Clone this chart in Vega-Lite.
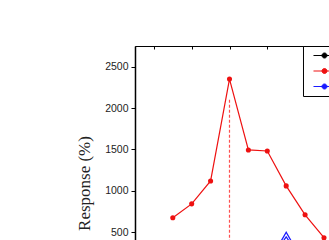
{
  "$schema": "https://vega.github.io/schema/vega-lite/v6.json",
  "autosize": {"type": "none"},
  "padding": {"left": 135, "top": 46, "right": 0, "bottom": 0},
  "width": 245.7,
  "height": 274,
  "background": "white",
  "config": {
    "view": {"stroke": "black", "strokeWidth": 1},
    "font": "Liberation Sans",
    "axis": {"grid": false}
  },
  "datasets": {
    "series": [
      {"s": "S1", "x": 2, "y": 40}, {"s": "S1", "x": 3, "y": 45}, {"s": "S1", "x": 4, "y": 50}, {"s": "S1", "x": 5, "y": 60}, {"s": "S1", "x": 6, "y": 55}, {"s": "S1", "x": 7, "y": 50}, {"s": "S1", "x": 8, "y": 45}, {"s": "S1", "x": 9, "y": 40}, {"s": "S1", "x": 10, "y": 35},
      {"s": "S2", "x": 2, "y": 675}, {"s": "S2", "x": 3, "y": 843}, {"s": "S2", "x": 4, "y": 1120}, {"s": "S2", "x": 5, "y": 2350}, {"s": "S2", "x": 6, "y": 1494}, {"s": "S2", "x": 7, "y": 1482}, {"s": "S2", "x": 8, "y": 1060}, {"s": "S2", "x": 9, "y": 711}, {"s": "S2", "x": 10, "y": 434},
      {"s": "S3", "x": 7, "y": 110}, {"s": "S3", "x": 8, "y": 445}, {"s": "S3", "x": 9, "y": 110}
    ],
    "marker": [{"x": 5, "y": 2100, "y2": -560}]
  },
  "layer": [
    {
      "data": {"name": "marker"},
      "mark": {"type": "rule", "stroke": "#ff5050", "opacity": 1, "strokeOpacity": 1, "strokeWidth": 1.2, "strokeDash": [3, 2]},
      "encoding": {
        "x": {"field": "x", "type": "quantitative", "scale": {"domain": [0, 13]}},
        "y": {"field": "y", "type": "quantitative", "scale": {"domain": [-560, 2750]}},
        "y2": {"field": "y2"}
      }
    },
    {
      "data": {"name": "series"},
      "mark": {"type": "line", "strokeWidth": 1.2},
      "encoding": {
        "x": {"field": "x", "type": "quantitative", "scale": {"domain": [0, 13], "nice": false},
          "axis": {"orient": "top", "values": [1,2,3,4,5,6,7,8,9,10,11,12], "labels": false, "title": null, "domain": false, "tickSize": -3, "tickColor": "black", "grid": false}},
        "y": {"field": "y", "type": "quantitative", "scale": {"domain": [-560, 2750], "nice": false, "zero": false},
          "axis": {"orient": "left", "values": [0,250,500,750,1000,1250,1500,1750,2000,2250,2500], "labelExpr": "datum.value % 500 === 0 ? datum.label : ''",
            "format": "d", "grid": false, "domainColor": "black", "domainWidth": 1.5, "tickColor": "black", "tickWidth": 1,
            "tickSize": {"condition": {"test": "datum.value % 500 === 0", "value": 4}, "value": 2.5},
            "labelFont": "Liberation Sans", "labelFontSize": 10.5, "labelColor": "#222", "labelPadding": 3,
            "title": "Response (%)", "titleFont": "Liberation Serif", "titleFontSize": 17, "titleFontWeight": "normal", "titleColor": "#222", "titlePadding": 11}},
        "color": {"field": "s", "type": "nominal",
          "scale": {"domain": ["S1", "S2", "S3"], "range": ["black", "#ee1111", "#1a1aff"]},
          "legend": {"orient": "none", "legendX": 168, "legendY": 0, "title": null, "padding": 4,
            "strokeColor": "black", "fillColor": "white", "symbolType": "M-2.2,0L2.2,0M0.5,0A0.5,0.5,0,1,1,-0.5,0A0.5,0.5,0,1,1,0.5,0Z",
            "symbolSize": 100, "symbolOffset": 12, "symbolStrokeWidth": 1, "labelFontSize": 11, "rowPadding": 3.5,
            "encode": {"symbols": {"update": {"fill": {"scale": "color", "field": "value"}, "stroke": {"scale": "color", "field": "value"}}}}}}
      }
    },
    {
      "data": {"name": "series"},
      "transform": [{"filter": "datum.s === 'S2'"}],
      "mark": {"type": "point", "shape": "circle", "filled": true, "size": 26, "opacity": 1, "color": "#ee1111"},
      "encoding": {
        "x": {"field": "x", "type": "quantitative"},
        "y": {"field": "y", "type": "quantitative"}
      }
    },
    {
      "data": {"name": "series"},
      "transform": [{"filter": "datum.s === 'S3'"}],
      "mark": {"type": "point", "shape": "triangle-up", "filled": false, "size": 110, "strokeWidth": 1.3, "opacity": 1, "color": "#1a1aff"},
      "encoding": {
        "x": {"field": "x", "type": "quantitative"},
        "y": {"field": "y", "type": "quantitative"}
      }
    },
    {
      "data": {"name": "series"},
      "transform": [{"filter": "datum.s === 'S1'"}],
      "mark": {"type": "point", "shape": "square", "filled": true, "size": 20, "opacity": 1, "color": "black"},
      "encoding": {
        "x": {"field": "x", "type": "quantitative"},
        "y": {"field": "y", "type": "quantitative"}
      }
    }
  ]
}
